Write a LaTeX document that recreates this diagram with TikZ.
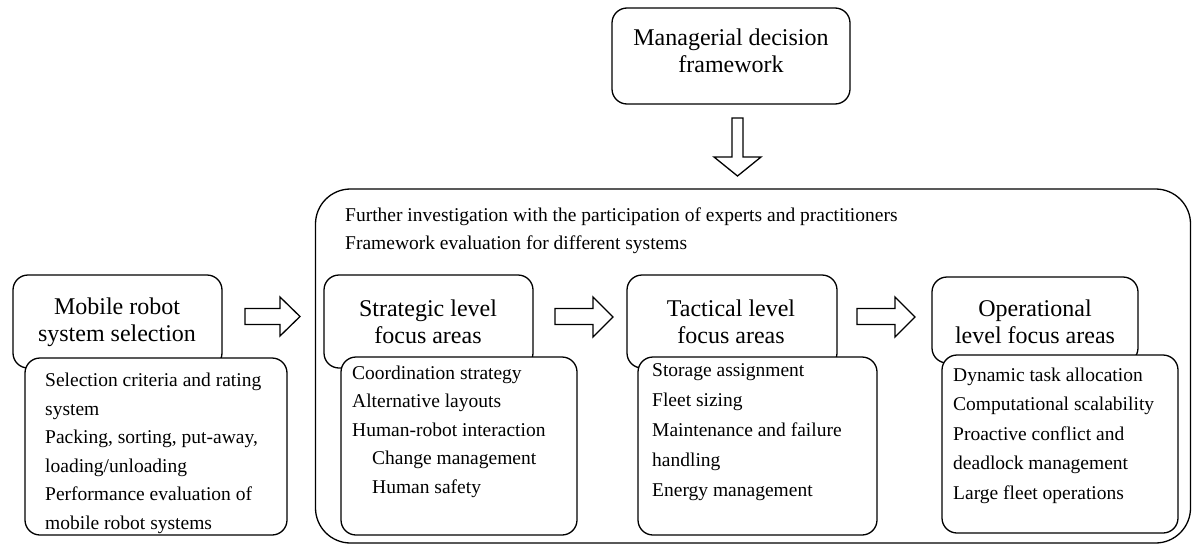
\documentclass[tikz,border=0pt]{standalone}
\usepackage{fontspec}
\setmainfont{Liberation Serif}
\begin{document}
\begin{tikzpicture}[x=1pt,y=-1pt,
  box/.style={draw, line width=1.3pt, rounded corners=15pt, fill=white, inner sep=0pt},
  titletext/.style={font=\fontsize{24}{27}\selectfont, align=center, inner sep=0pt},
  listtext/.style={font=\fontsize{19.5}{28.5}\selectfont, align=left, inner sep=0pt, anchor=base west},
  blockarrow/.style={draw, line width=1.3pt, fill=white, line join=miter}]
\useasboundingbox (0,0) rectangle (1193,546);

% top box
\node[box, minimum width=238pt, minimum height=96pt] (mgr) at (731,56) {};
\node[titletext] (mgrt) at (731,51) {Managerial decision\\framework};

% container
\node[box, rounded corners=35pt, minimum width=875pt, minimum height=354pt] (cont) at (753,366) {};
\node[listtext, font=\fontsize{19.5}{28}\selectfont] (contt) at (345,249) {Further investigation with the participation of experts and practitioners\\Framework evaluation for different systems};

% mobile robot
\node[box, minimum width=209pt, minimum height=93pt] (mob) at (117.5,321.5) {};
\node[box, minimum width=262pt, minimum height=177pt] (mobs) at (156,446.5) {};
\node[titletext] (mobt) at (117,322) {Mobile robot\\system selection};
\node[listtext] (mobst) at (45,529) {Selection criteria and rating\\system\\Packing, sorting, put-away,\\loading/unloading\\Performance evaluation of\\mobile robot systems};

% strategic
\node[box, minimum width=209pt, minimum height=93pt] (str) at (428.5,321.5) {};
\node[box, minimum width=236pt, minimum height=178pt] (strs) at (459,446) {};
\node[titletext] (strt) at (428,322) {Strategic level\\focus areas};
\node[listtext] (strst) at (352,493) {Coordination strategy\\Alternative layouts\\Human-robot interaction\\\hspace*{20pt}Change management\\\hspace*{20pt}Human safety};

% tactical
\node[box, minimum width=210pt, minimum height=93pt] (tac) at (732,321.5) {};
\node[box, minimum width=239pt, minimum height=178pt] (tacs) at (757.5,446) {};
\node[titletext] (tact) at (731,322) {Tactical level\\focus areas};
\node[listtext, font=\fontsize{19.5}{30}\selectfont] (tacst) at (652,496) {Storage assignment\\Fleet sizing\\Maintenance and failure\\handling\\Energy management};

% operational
\node[box, minimum width=206pt, minimum height=86pt] (ope) at (1035,320) {};
\node[box, minimum width=236pt, minimum height=178pt] (opes) at (1060,444) {};
\node[titletext] (opet) at (1035,322) {Operational\\level focus areas};
\node[listtext, font=\fontsize{19.5}{29.5}\selectfont] (opest) at (953,499) {Dynamic task allocation\\Computational scalability\\Proactive conflict and\\deadlock management\\Large fleet operations};

% block arrows
\draw[blockarrow] (732,118) -- (743,118) -- (743,157) -- (761,157) -- (737.5,176) -- (714,157) -- (732,157) -- cycle;
\draw[blockarrow] (245,308.5) -- (280,308.5) -- (280,297) -- (300,316.5) -- (280,336) -- (280,324.5) -- (245,324.5) -- cycle;
\draw[blockarrow] (555,308.5) -- (593,308.5) -- (593,297) -- (613,317) -- (593,337) -- (593,324.5) -- (555,324.5) -- cycle;
\draw[blockarrow] (857,308.5) -- (895,308.5) -- (895,297) -- (915,317) -- (895,337) -- (895,324.5) -- (857,324.5) -- cycle;
\end{tikzpicture}
\end{document}
